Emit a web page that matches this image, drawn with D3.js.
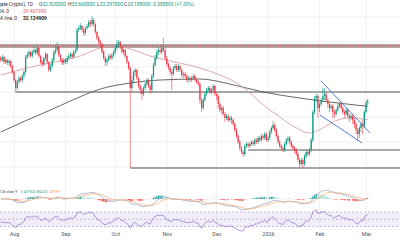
<!DOCTYPE html>
<html>
<head>
<meta charset="utf-8">
<script src="https://cdn.jsdelivr.net/npm/d3@7"></script>
<style>
  body { margin: 0; background: #fff; }
  svg { display: block; font-family: Roboto, "Liberation Sans", sans-serif; }
</style>
</head>
<body>
<div id="chart"></div>
<script>
// daily candles, first one is 24 Jul 2025
var firstDay = new Date(2025, 6, 24);
var firstOpen = 41.8;

var closes = [
  41.4, 42.0, 41.0, 41.4, 40.8, 41.2, 40.2, 39.0, 37.4, 35.8,
  37.0, 37.8, 37.4, 38.2, 39.0, 42.0, 42.4, 43.0, 42.2, 43.0,
  43.4, 42.8, 43.8, 42.2, 41.0, 40.6, 41.8, 42.6, 41.0, 39.4,
  40.2, 41.4, 43.0, 43.4, 44.0, 42.4, 41.4, 40.8, 41.4, 41.0,
  41.8, 42.2, 42.6, 42.0, 43.0, 43.4, 47.4, 47.8, 48.2, 47.4,
  46.8, 47.8, 48.2, 49.0, 48.6, 49.4, 48.6, 47.0, 45.8, 45.0,
  44.6, 43.0, 41.8, 41.0, 41.4, 42.2, 41.8, 42.4, 43.0, 43.8,
  44.6, 45.0, 44.0, 43.0, 43.4, 42.2, 41.0, 39.8, 35.8, 37.4,
  39.0, 39.4, 37.8, 36.2, 35.4, 34.6, 35.8, 36.6, 37.4, 36.2,
  35.4, 38.2, 40.4, 41.8, 43.0, 43.4, 43.0, 43.8, 43.4, 41.8,
  40.6, 39.8, 39.0, 38.6, 39.8, 40.2, 39.4, 40.2, 39.4, 38.4,
  38.6, 38.2, 37.4, 37.8, 37.4, 37.8, 38.2, 37.4, 37.0, 36.6,
  33.4, 31.8, 33.4, 34.6, 35.4, 35.8, 35.0, 35.4, 36.2, 34.6,
  34.2, 32.6, 31.4, 31.8, 30.6, 29.8, 30.2, 29.4, 29.8, 29.4,
  28.6, 27.4, 26.2, 25.0, 23.8, 23.0, 22.6, 24.2, 24.6, 24.2,
  24.6, 25.0, 24.6, 25.4, 25.0, 25.8, 25.4, 26.2, 25.8, 26.6,
  25.4, 25.8, 27.0, 27.8, 28.4, 27.4, 26.2, 25.0, 24.2, 23.8,
  23.4, 24.6, 25.4, 25.8, 25.0, 24.2, 23.8, 23.4, 22.6, 21.4,
  20.6, 21.4, 20.6, 22.2, 23.0, 22.6, 23.4, 25.4, 31.0, 33.8,
  34.2, 31.8, 32.6, 33.4, 34.2, 34.6, 33.4, 32.6, 31.8, 32.2,
  31.0, 30.6, 31.4, 32.2, 32.6, 31.8, 31.0, 30.6, 31.4, 30.2,
  29.8, 30.2, 29.4, 28.6, 27.4, 26.6, 27.8, 28.6, 28.2, 31.0,
  32.83, 33.188
];

var highs = [
  42.2, 42.4, 42.2, 41.8, 41.6, 41.6, 41.4, 40.4, 39.2, 37.6,
  37.4, 38.2, 38.2, 38.6, 39.4, 42.4, 43.0, 43.4, 43.2, 43.4,
  44.0, 43.6, 44.2, 44.0, 42.4, 41.4, 42.0, 43.0, 42.8, 41.2,
  40.6, 41.8, 43.4, 44.2, 45.0, 44.2, 42.6, 41.8, 41.8, 41.8,
  42.2, 42.6, 43.0, 42.8, 43.4, 43.8, 47.8, 48.4, 48.8, 48.4,
  47.8, 48.0, 48.6, 49.4, 49.4, 50.2, 49.8, 48.8, 47.2, 46.2,
  45.4, 44.8, 43.4, 42.2, 41.8, 42.6, 42.6, 42.8, 43.4, 44.2,
  45.4, 45.4, 45.2, 44.2, 43.8, 43.6, 42.4, 41.2, 40.2, 38.2,
  39.4, 39.8, 39.6, 38.0, 36.6, 35.8, 36.2, 37.0, 37.8, 37.8,
  36.6, 38.6, 40.8, 42.4, 43.4, 44.0, 43.8, 44.4, 45.8, 43.8,
  42.2, 41.0, 40.2, 39.4, 40.2, 40.6, 40.6, 40.6, 40.4, 39.8,
  39.0, 39.0, 38.6, 38.2, 38.2, 38.2, 38.6, 38.6, 37.8, 37.4,
  37.0, 33.8, 33.8, 35.0, 35.8, 36.2, 36.2, 35.8, 36.6, 36.4,
  35.0, 34.6, 33.0, 32.2, 32.2, 31.0, 30.6, 30.6, 30.2, 30.2,
  29.8, 29.0, 27.8, 26.6, 25.4, 24.2, 23.4, 24.6, 25.0, 25.0,
  25.0, 25.4, 25.4, 25.8, 25.8, 26.2, 26.2, 26.6, 26.6, 27.0,
  27.0, 26.2, 27.4, 28.2, 29.2, 28.8, 27.8, 26.6, 25.4, 24.6,
  24.2, 25.0, 25.8, 26.2, 26.2, 25.4, 24.6, 24.2, 23.8, 23.0,
  21.8, 21.8, 21.8, 22.6, 23.4, 23.4, 23.8, 25.8, 31.4, 34.2,
  34.6, 34.6, 33.0, 33.8, 35.8, 35.8, 35.0, 33.8, 33.0, 32.6,
  32.6, 31.4, 31.8, 32.6, 33.0, 33.0, 32.2, 31.4, 31.8, 31.8,
  30.6, 30.6, 30.6, 29.8, 29.0, 27.8, 28.2, 29.0, 29.4, 31.4,
  33.4, 33.66
];

var lows = [
  41.0, 41.0, 40.6, 40.6, 40.4, 40.2, 39.8, 38.6, 37.0, 35.0,
  35.4, 36.6, 37.0, 37.0, 37.8, 38.6, 41.6, 42.0, 41.8, 41.8,
  42.6, 42.4, 42.4, 41.8, 40.6, 40.0, 40.2, 41.4, 40.6, 39.0,
  39.0, 39.8, 41.0, 42.6, 43.0, 42.0, 41.0, 40.4, 40.4, 40.6,
  40.6, 41.4, 41.8, 41.6, 41.8, 42.6, 43.0, 47.0, 47.4, 47.0,
  46.2, 46.4, 47.4, 47.8, 48.0, 48.2, 48.2, 46.6, 45.4, 44.4,
  43.8, 42.6, 41.4, 40.2, 40.2, 41.0, 41.4, 41.4, 42.0, 42.6,
  43.4, 44.0, 43.6, 42.6, 42.4, 41.8, 40.6, 39.4, 19.8, 35.0,
  37.0, 38.2, 37.4, 35.8, 34.6, 33.4, 34.2, 35.4, 36.2, 35.8,
  34.6, 35.0, 37.8, 40.0, 41.4, 42.4, 42.6, 42.6, 43.0, 41.4,
  40.2, 39.4, 38.4, 35.4, 38.2, 39.4, 39.0, 39.0, 39.0, 38.0,
  37.8, 37.8, 37.0, 36.8, 37.0, 37.0, 37.4, 37.0, 36.6, 36.2,
  32.6, 31.0, 31.4, 33.0, 34.2, 35.0, 34.6, 34.6, 35.0, 34.2,
  33.4, 31.8, 31.0, 30.6, 30.2, 29.0, 29.4, 29.0, 29.0, 28.6,
  28.2, 27.0, 25.8, 24.6, 23.4, 22.6, 22.0, 22.2, 23.8, 23.8,
  23.8, 24.2, 24.2, 24.2, 24.6, 24.6, 25.0, 25.0, 25.4, 25.4,
  25.0, 25.0, 25.4, 26.6, 27.4, 27.0, 25.8, 24.6, 23.8, 23.4,
  23.0, 23.0, 24.2, 25.0, 24.6, 23.8, 23.4, 22.8, 22.2, 21.0,
  19.8, 20.2, 19.8, 20.2, 21.8, 22.2, 22.2, 23.0, 25.0, 30.6,
  33.0, 29.8, 31.0, 32.2, 33.0, 33.4, 33.0, 31.8, 31.0, 31.4,
  29.8, 29.8, 30.2, 31.0, 31.8, 31.4, 30.6, 29.8, 30.2, 29.8,
  29.0, 29.4, 28.6, 27.8, 26.6, 25.2, 25.8, 27.0, 26.6, 27.8,
  30.6, 32.297
];

// moving averages (day index, value)
var maShortDays = [0, 9, 18, 33, 48, 60, 69, 78, 90, 105, 120, 132, 140, 148, 156, 168, 177, 186, 194, 200, 210, 221];
var maShortVals = [38.4, 39.2, 40.0, 41.0, 42.2, 43.8, 44.2, 43.6, 42.2, 41.0, 39.8, 38.4, 37.2, 35.4, 33.0, 30.0, 28.0, 26.8, 27.8, 29.0, 29.8, 29.46];
var maLongDays = [0, 16, 30, 42, 60, 78, 96, 120, 138, 158, 180, 198, 221];
var maLongVals = [27.0, 29.4, 31.4, 33.2, 35.6, 36.8, 37.4, 37.6, 36.6, 35.0, 33.8, 33.0, 32.13];

// drawings: horizontal levels (start day, price) and the falling channel
var levelDays = [9, 78, 149];
var levelPrices = [35.0, 19.8, 23.4];
var bandPrices = [44.4, 44.0];
var channelUpper = [[193, 37.2], [222.5, 26.8]];
var channelLower = [[192.3, 30.4], [217.7, 24.8]];

var monthStarts = ["2025-08-01", "2025-09-01", "2025-10-01", "2025-11-01", "2025-12-01", "2026-01-01", "2026-02-01", "2026-03-01"];
var monthLabels = ["Aug", "Sep", "Oct", "Nov", "Dec", "2026", "Feb", "Mar"];

var width = 400, height = 240;
var upColor = "#089981", downColor = "#f23645";

var svg = d3.select("#chart").append("svg")
  .attr("width", width)
  .attr("height", height);

function dayDate(i) {
  return new Date(firstDay.getTime() + i * 864e5);
}
var parse = d3.timeParse("%Y-%m-%d");
var months = monthStarts.map(parse);

var x = d3.scaleTime()
  .domain([months[0], months[months.length - 1]])
  .range([14, 366]);

var y = d3.scaleLinear()
  .domain([17.4, 53.4])
  .range([180, 0]);

// build candles
var candles = closes.map(function(c, i) {
  return {
    date: dayDate(i),
    open: i ? closes[i - 1] : firstOpen,
    high: highs[i],
    low: lows[i],
    close: c
  };
});

// grid
svg.append("g")
  .selectAll("line")
  .data(months)
  .enter().append("line")
  .attr("x1", d => x(d)).attr("x2", d => x(d))
  .attr("y1", 0).attr("y2", 228)
  .attr("stroke", "#f0f1f4")
  .attr("stroke-width", 1);

svg.append("g")
  .selectAll("line")
  .data(d3.range(20, 55, 5))
  .enter().append("line")
  .attr("x1", 0).attr("x2", width)
  .attr("y1", d => y(d)).attr("y2", d => y(d))
  .attr("stroke", "#f0f1f4");

var main = svg.append("g");

// resistance band
bandPrices.forEach(function(p) {
  main.append("line")
    .attr("x1", 0).attr("x2", width)
    .attr("y1", y(p)).attr("y2", y(p))
    .attr("stroke", "#5a3d3d")
    .attr("stroke-width", 0.9);
});
main.append("line")
  .attr("x1", 0).attr("x2", width)
  .attr("y1", y(d3.mean(bandPrices))).attr("y2", y(d3.mean(bandPrices)))
  .attr("stroke", "#d24b4b")
  .attr("stroke-width", 1.2)
  .attr("stroke-dasharray", "1.5,1");

// horizontal levels
main.append("g")
  .selectAll("line")
  .data(levelDays)
  .enter().append("line")
  .attr("x1", d => x(dayDate(d))).attr("x2", width)
  .attr("y1", (d, i) => y(levelPrices[i])).attr("y2", (d, i) => y(levelPrices[i]))
  .attr("stroke", "#555")
  .attr("stroke-width", 1);

// moving averages
var maLine = d3.line()
  .x(d => x(dayDate(d[0])))
  .y(d => y(d[1]))
  .curve(d3.curveMonotoneX);

main.append("path")
  .datum(maLongDays.map((d, i) => [d, maLongVals[i]]))
  .attr("d", maLine)
  .attr("fill", "none")
  .attr("stroke", "#555")
  .attr("stroke-width", 0.9);

main.append("path")
  .datum(maShortDays.map((d, i) => [d, maShortVals[i]]))
  .attr("d", maLine)
  .attr("fill", "none")
  .attr("stroke", "#d7a3a3")
  .attr("stroke-width", 0.9);

// candles
var cg = main.append("g");
cg.selectAll("line")
  .data(candles)
  .enter().append("line")
  .attr("x1", d => x(d.date)).attr("x2", d => x(d.date))
  .attr("y1", d => y(Math.max(d.high, d.open, d.close)))
  .attr("y2", d => y(Math.min(d.low, d.open, d.close)))
  .attr("stroke", d => d.close >= d.open ? upColor : downColor)
  .attr("stroke-width", 0.6);

cg.selectAll("rect")
  .data(candles)
  .enter().append("rect")
  .attr("x", d => x(d.date) - 0.6)
  .attr("width", 1.2)
  .attr("y", d => y(Math.max(d.open, d.close)))
  .attr("height", d => Math.max(0.6, Math.abs(y(d.open) - y(d.close))))
  .attr("fill", d => d.close >= d.open ? upColor : downColor);

// channel
[channelUpper, channelLower].forEach(function(seg) {
  main.append("line")
    .attr("x1", x(dayDate(seg[0][0]))).attr("y1", y(seg[0][1]))
    .attr("x2", x(dayDate(seg[1][0]))).attr("y2", y(seg[1][1]))
    .attr("stroke", "#3f6fd8")
    .attr("stroke-width", 0.9);
});

// MACD 12 26 9
function ema(arr, n) {
  var k = 2 / (n + 1), prev, out = [];
  arr.forEach(function(v, i) {
    prev = i ? v * k + prev * (1 - k) : v;
    out.push(prev);
  });
  return out;
}
var e12 = ema(closes, 12), e26 = ema(closes, 26);
var macd = closes.map((c, i) => e12[i] - e26[i]);
var signal = ema(macd, 9);
var hist = macd.map((m, i) => m - signal[i]);

var mMax = d3.max(macd.concat(signal), d => Math.abs(d));
var yM = d3.scaleLinear().domain([-mMax, mMax]).range([210, 188]);

var mg = svg.append("g");
mg.selectAll("rect")
  .data(hist)
  .enter().append("rect")
  .attr("x", (d, i) => x(dayDate(i)) - 0.6)
  .attr("width", 1.2)
  .attr("y", d => Math.min(yM(d), yM(0)))
  .attr("height", d => Math.abs(yM(d) - yM(0)))
  .attr("fill", function(d, i) {
    var p = i ? hist[i - 1] : 0;
    if (d >= 0) return d >= p ? "#26a69a" : "#b2dfdb";
    return d < p ? "#ff5252" : "#ffcdd2";
  });

var idxLine = d3.line()
  .x((d, i) => x(dayDate(i)))
  .y(d => yM(d));
mg.append("path").datum(macd).attr("d", idxLine)
  .attr("fill", "none").attr("stroke", "#9fa8c9").attr("stroke-width", 0.8);
mg.append("path").datum(signal).attr("d", idxLine)
  .attr("fill", "none").attr("stroke", "#f3b27a").attr("stroke-width", 0.8);

// RSI 14
var gains = [], losses = [];
closes.forEach(function(c, i) {
  var ch = i ? c - closes[i - 1] : 0;
  gains.push(Math.max(ch, 0));
  losses.push(Math.max(-ch, 0));
});
var ag = d3.mean(gains.slice(1, 15)), al = d3.mean(losses.slice(1, 15));
var rsi = closes.map(function(c, i) {
  if (i) {
    ag = (ag * 13 + gains[i]) / 14;
    al = (al * 13 + losses[i]) / 14;
  }
  return al === 0 ? 100 : 100 - 100 / (1 + ag / al);
});

var yR = d3.scaleLinear().domain([30, 70]).range([226.5, 212]);
var rg = svg.append("g");
rg.append("rect")
  .attr("x", 0).attr("width", width)
  .attr("y", yR(70)).attr("height", yR(30) - yR(70))
  .attr("fill", "#7e57c2").attr("fill-opacity", 0.1);
[70, 50, 30].forEach(function(v) {
  rg.append("line")
    .attr("x1", 0).attr("x2", width)
    .attr("y1", yR(v)).attr("y2", yR(v))
    .attr("stroke", "#9e9eb8")
    .attr("stroke-width", 0.6)
    .attr("stroke-dasharray", "2,2");
});
rg.append("path")
  .datum(rsi)
  .attr("d", d3.line().x((d, i) => x(dayDate(i))).y(d => yR(d)))
  .attr("fill", "none")
  .attr("stroke", "#8c6bcc")
  .attr("stroke-width", 0.7);

// x axis
var xAxis = d3.axisBottom(x)
  .tickValues(months)
  .tickFormat((d, i) => monthLabels[i])
  .tickSize(0)
  .tickPadding(2);
var ax = svg.append("g")
  .attr("transform", "translate(0, 230)")
  .call(xAxis);
ax.select(".domain").remove();
ax.selectAll("text").attr("font-size", 5.5).attr("fill", "#555")
  .attr("font-family", "Roboto, sans-serif");

// legends
var fs = 4.9;
var leg = svg.append("g").attr("font-size", fs);
leg.append("text").attr("x", 33).attr("y", 6).attr("text-anchor", "end")
  .attr("fill", "#333").text("Hyperliquid / U.S. Dollar (Aggregate Crypto), 1D");
var ohlcKeys = ["O", "H", "L", "C"];
var ohlcVals = ["32.820000", "33.660000", "32.297000", "33.188000"];
var ohlcX = [39, 68, 97, 124];
ohlcKeys.forEach(function(k, i) {
  var t = leg.append("text").attr("x", ohlcX[i]).attr("y", 6).attr("fill", "#333");
  t.append("tspan").text(k);
  t.append("tspan").attr("fill", upColor).text(ohlcVals[i]);
});
leg.append("text").attr("x", 153).attr("y", 6).attr("fill", upColor)
  .text("0.358000 (+1.09%)");

leg.append("text").attr("x", 9).attr("y", 13).attr("text-anchor", "end")
  .attr("fill", "#333").text("MA 50 close 0 SMA, 0");
leg.append("text").attr("x", 23).attr("y", 13).attr("fill", "#e05a5a").text("29.461990");
leg.append("text").attr("x", 17).attr("y", 20).attr("text-anchor", "end")
  .attr("fill", "#333").text("MA 200 close 0 SMA line, 0");
leg.append("text").attr("x", 23).attr("y", 20).attr("fill", "#222")
  .attr("font-weight", "bold").text("32.134909");

var mleg = svg.append("g").attr("font-size", 3.2);
mleg.append("text").attr("x", 17).attr("y", 193).attr("text-anchor", "end")
  .attr("fill", "#333").text("MACD 12 26 close, 9");
var macdVals = ["0.407962", "0.584225", "0.287999"];
var macdCols = ["#26a69a", "#26a69a", "#f39c4a"];
var macdX = [21, 33.5, 46.5];
macdVals.forEach(function(v, i) {
  mleg.append("text").attr("x", macdX[i]).attr("y", 193)
    .attr("fill", macdCols[i]).text(v);
});
</script>
</body>
</html>
